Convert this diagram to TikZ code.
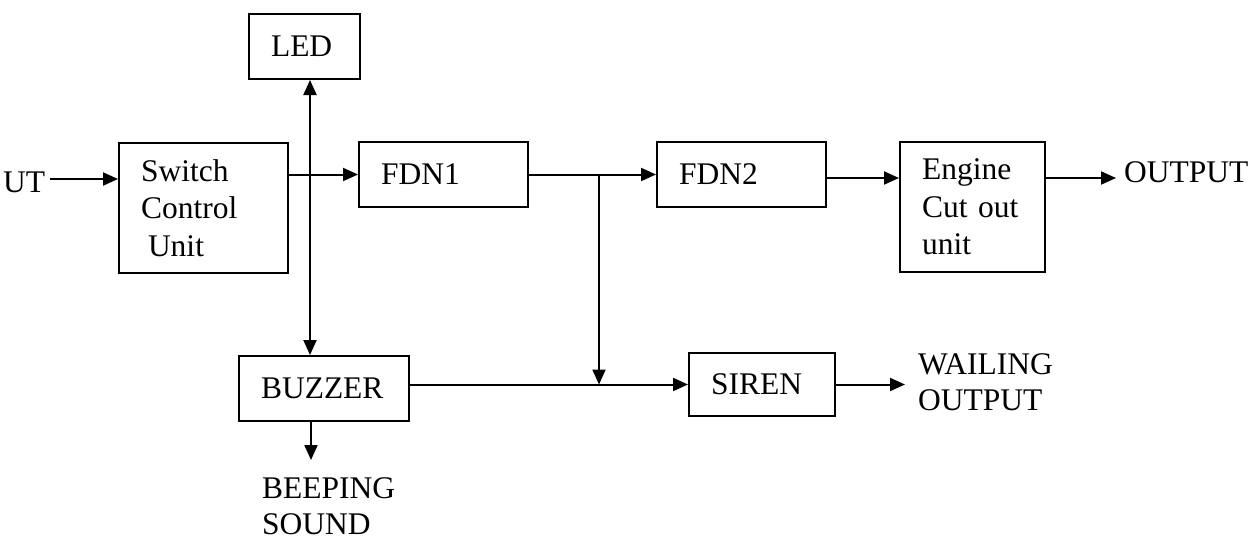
\documentclass[tikz,border=0pt]{standalone}
\usepackage{fontspec}
\setmainfont{Liberation Serif}
\usetikzlibrary{arrows.meta}
\begin{document}
\begin{tikzpicture}[x=1pt,y=-1pt,
  font=\fontsize{31.5}{37.5}\selectfont,
  blk/.style n args={3}{draw, line width=2pt, anchor=north west, align=left,
     inner xsep=22pt, inner ysep=0pt, text width=#1, minimum height=#2, minimum width=#3},
  lbl/.style={inner sep=0pt, align=left},
  conn/.style={line width=2pt, -{Triangle[length=15pt,width=13pt]}},
  dconn/.style={line width=2pt, {Triangle[length=15pt,width=13pt]}-{Triangle[length=15pt,width=13pt]}}]
\useasboundingbox (0,0) rectangle (1255,541);
\fill[white] (0,0) rectangle (1255,541);
% blocks
\node[blk={67pt}{65pt}{111pt}] (led) at (248,13) {LED};
\node[blk={125pt}{130pt}{169pt}] (sw) at (118,142) {Switch\\Control\\\hspace*{7pt}Unit};
\node[blk={125pt}{65pt}{169pt}] (f1) at (358,141) {FDN1};
\node[blk={125pt}{65pt}{169pt}] (f2) at (656,141) {FDN2};
\node[blk={101pt}{130pt}{145pt}] (eng) at (899,141) {Engine\\Cut out\\unit};
\node[blk={126pt}{65pt}{170pt}] (buz) at (238,355) {BUZZER};
\node[blk={102pt}{63pt}{146pt}] (sir) at (688,352) {SIREN};
% labels
\node[lbl, anchor=base west] (inp) at (3,192) {UT};
\node[lbl, anchor=base west] (out) at (1124,182) {OUTPUT};
\node[lbl, anchor=north west, font=\fontsize{31.5}{36}\selectfont] (wail) at (918,353) {WAILING\\OUTPUT};
\node[lbl, anchor=north west, font=\fontsize{31.5}{36}\selectfont] (beep) at (262,477) {BEEPING\\SOUND};
% helper coordinates
\coordinate (i0) at (50,179);
\coordinate (vx) at (310,0);
\coordinate (j) at (599,0);
\coordinate (r1) at (0,178);
\coordinate (o1) at (1116,178);
\coordinate (bx) at (311,0);
\coordinate (b1) at (311,460);
\coordinate (s1) at (905,0);
% connectors
\draw[conn] (i0) -- (sw.west |- i0);
\draw[conn] (sw.east |- f1.west) -- (f1.west);
\draw[dconn] (buz.north -| vx) -- (led.south -| vx);
\draw[conn] (f1.east) -- (f2.west);
\draw[conn] (f1.east -| j) -- (sir.west -| j);
\draw[conn] (buz.east |- sir.west) -- (sir.west);
\draw[conn] (f2.east |- r1) -- (eng.west |- r1);
\draw[conn] (eng.east |- r1) -- (o1);
\draw[conn] (buz.south -| bx) -- (b1);
\draw[conn] (sir.east) -- (sir.east -| s1);
\end{tikzpicture}
\end{document}
